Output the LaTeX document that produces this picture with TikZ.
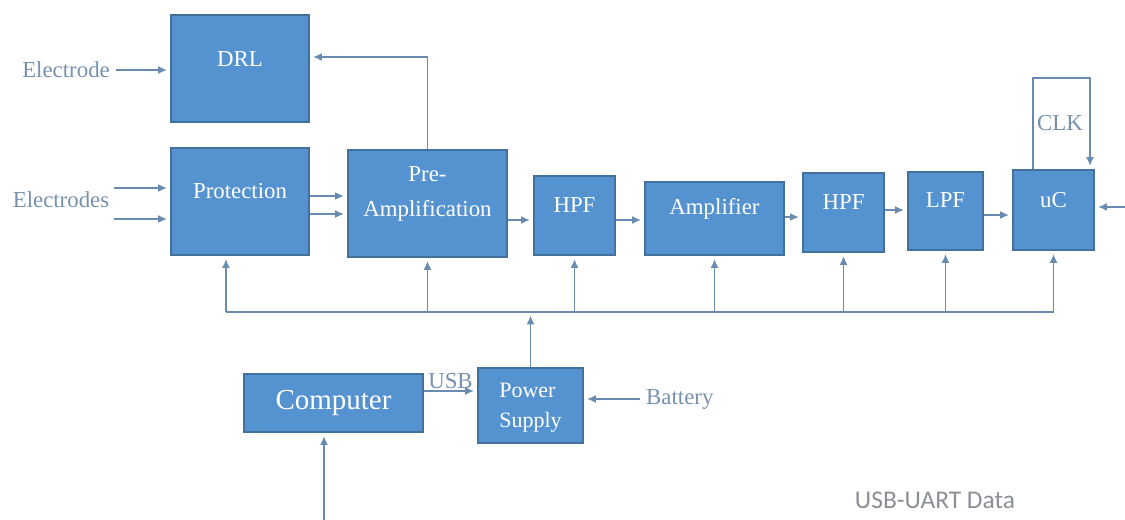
\documentclass[tikz,border=0pt]{standalone}
\usepackage{xcolor}
\usepackage{fontspec}
\setmainfont{Liberation Serif}
\newfontfamily\uartfont{Carlito}
\usepackage{tikz}
\usetikzlibrary{arrows.meta}
\definecolor{blockblue}{HTML}{5593D0}
\definecolor{blockedge}{HTML}{41719C}
\definecolor{wireblue}{HTML}{6A8BB0}
\definecolor{textblue}{HTML}{7690AE}
\definecolor{uartgray}{HTML}{8A8F96}

\begin{document}
\begin{tikzpicture}[
    x=0.02cm, y=-0.02cm,
    block/.style={draw=blockedge, fill=blockblue, line width=0.6pt, text=white, inner xsep=0pt, inner ysep=0pt, align=center, font=\fontsize{13}{20}\selectfont},
    txt/.style={text=textblue, font=\fontsize{13}{16}\selectfont},
    wire/.style={draw=wireblue, line width=0.9pt},
    arrow/.style={-{Latex[length=5pt, width=4.5pt]}, wire, shorten >=2pt}
]
\useasboundingbox (0,0) rectangle (1125,520);
\node (drl) [block, minimum width=2.76cm, text height=1.04cm, text depth=1.10cm] at (240,68.5) {DRL};
\node (prot) [block, minimum width=2.76cm, text height=1.00cm, text depth=1.14cm] at (240,201.5) {Protection};
\node (pre) [block, minimum width=3.18cm, text height=1.34cm, text depth=0.80cm] at (427.5,203.5) {Pre-\\Amplification};
\node (hpfa) [block, minimum width=1.62cm, text height=0.72cm, text depth=0.86cm] at (574.5,215.5) {HPF};
\node (amp) [block, minimum width=2.78cm, text height=0.64cm, text depth=0.82cm] at (714.5,218.5) {Amplifier};
\node (hpfb) [block, minimum width=1.62cm, text height=0.72cm, text depth=0.86cm] at (843.5,212.5) {HPF};
\node (lpf) [block, minimum width=1.50cm, text height=0.70cm, text depth=0.86cm] at (945.5,211) {LPF};
\node (uc) [block, minimum width=1.62cm, text height=0.74cm, text depth=0.86cm] at (1053.5,210) {uC};
\node (comp) [block, minimum width=3.58cm, text height=0.70cm, text depth=0.46cm, font=\fontsize{16.5}{20}\selectfont] at (333.5,403) {Computer};
\node (ps) [block, minimum width=2.10cm, text height=1.20cm, text depth=0.30cm, align=left, font=\fontsize{12.5}{17.5}\selectfont] at (530.5,405.5) {Power\\Supply};

\node (electrode) [txt, anchor=east] at (116,70) {Electrode};
\node (electrodes) [txt] at (61,200) {Electrodes};
\node (clk) [txt] at (1060,123) {CLK};
\node (batt) [txt, anchor=west] at (640,399) {Battery};
\node (uart) [text=uartgray, font=\uartfont\fontsize{14.5}{17}\selectfont] at (935,500) {USB-UART Data};

\coordinate (ein1) at (114,188);
\coordinate (ein2) at (114,219);
\coordinate (clkl) at (1033,78);
\coordinate (clkr) at (1090,78);
\coordinate (uartr) at (1125,207);
\coordinate (uartin) at (324,520);
\coordinate (bus) at (0,312);
\coordinate (protin) at ([xshift=-8pt]prot.south);

\draw[arrow] (electrode.east) -- (electrode.east -| drl.west);
\draw[arrow] (ein1) -- (ein1 -| prot.west);
\draw[arrow] (ein2) -- (ein2 -| prot.west);
\draw[arrow] (prot.east |- 0,196) -- (pre.west |- 0,196);
\draw[arrow] (prot.east |- 0,214) -- (pre.west |- 0,214);
\draw[arrow] (pre.north) |- (drl.east |- 0,57);
\draw[arrow] (pre.east |- 0,220) -- (hpfa.west |- 0,220);
\draw[arrow] (hpfa.east |- 0,220) -- (amp.west |- 0,220);
\draw[arrow] (amp.east |- 0,217) -- (hpfb.west |- 0,217);
\draw[arrow] (hpfb.east |- 0,210) -- (lpf.west |- 0,210);
\draw[arrow] (lpf.east |- 0,215) -- (uc.west |- 0,215);
\draw[arrow] (uc.north -| clkl) -- (clkl) -- (clkr) -- (uc.north -| clkr);
\draw[arrow] (uartr) -- (uartr -| uc.east);

\draw[wire] (protin |- bus) -- (uc.south |- bus);
\draw[arrow] (protin |- bus) -- (protin);
\draw[arrow] (pre.south |- bus) -- (pre.south);
\draw[arrow] (hpfa.south |- bus) -- (hpfa.south);
\draw[arrow] (amp.south |- bus) -- (amp.south);
\draw[arrow] (hpfb.south |- bus) -- (hpfb.south);
\draw[arrow] (lpf.south |- bus) -- (lpf.south);
\draw[arrow] (uc.south |- bus) -- (uc.south);
\draw[arrow] (ps.north) -- (ps.north |- bus);

\draw[arrow] (comp.east |- 0,391) -- node[txt, above, inner sep=1pt] (usb) {USB} (ps.west |- 0,391);
\draw[arrow] (batt.west) -- (ps.east |- batt.west);
\draw[arrow] (uartin) -- (uartin |- comp.south);
\end{tikzpicture}
\end{document}
